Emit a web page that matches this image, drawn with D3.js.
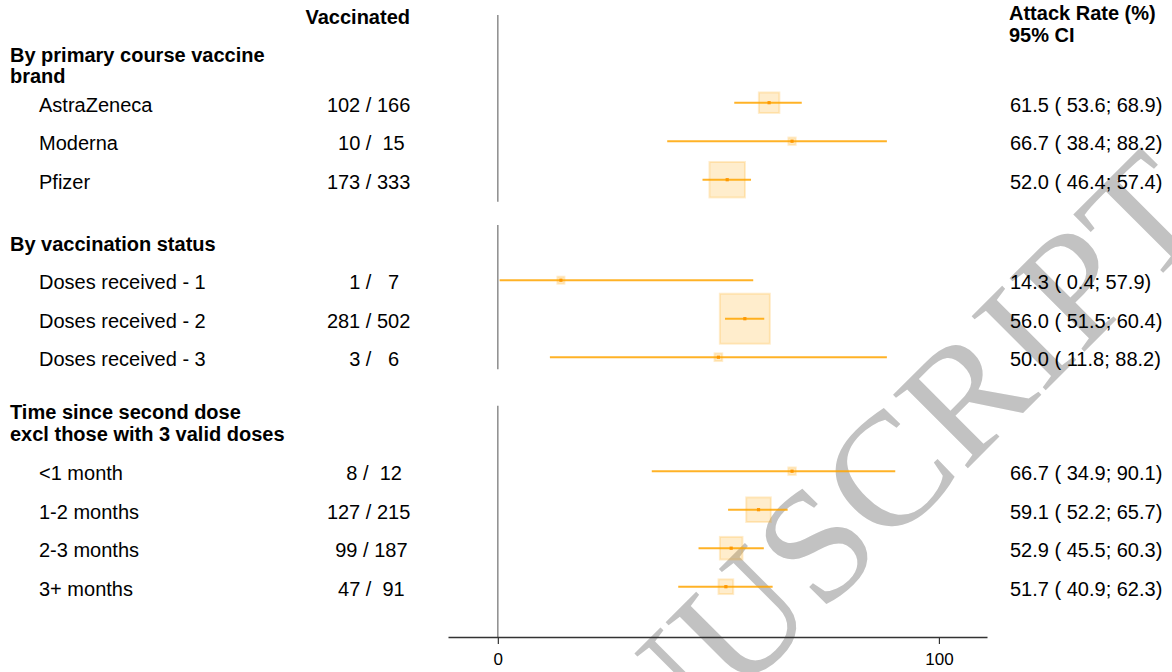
<!DOCTYPE html>
<html><head><meta charset="utf-8">
<script src="https://cdn.jsdelivr.net/npm/d3@7"></script>
<style>
body{margin:0;background:#fff;}
svg{display:block;}
text{font-family:"Liberation Sans",Arial,Helvetica,sans-serif;fill:#000;}
</style>
</head><body>
<svg id="chart" width="1172" height="672"></svg>
<script>
// ---------------- data ----------------
const groupTitles = [
  ["By primary course vaccine", "brand"],
  ["By vaccination status"],
  ["Time since second dose", "excl those with 3 valid doses"]
];
const labels = ["AstraZeneca", "Moderna", "Pfizer",
  "Doses received - 1", "Doses received - 2", "Doses received - 3",
  "<1 month", "1-2 months", "2-3 months", "3+ months"];
const groupIndex = [0, 0, 0, 1, 1, 1, 2, 2, 2, 2];
const events = [102, 10, 173, 1, 281, 3, 8, 127, 99, 47];
const totals = [166, 15, 333, 7, 502, 6, 12, 215, 187, 91];
const attackRate = [61.5, 66.7, 52.0, 14.3, 56.0, 50.0, 66.7, 59.1, 52.9, 51.7];
const ciLower = [53.6, 38.4, 46.4, 0.4, 51.5, 11.8, 34.9, 52.2, 45.5, 40.9];
const ciUpper = [68.9, 88.2, 57.4, 57.9, 60.4, 88.2, 90.1, 65.7, 60.3, 62.3];
const weights = [420, 53, 1260, 49, 2500, 59, 55, 605, 511, 216];
const xTicks = [0, 100];
const colHeaderLeft = "Vaccinated";
const colHeaderRight = ["Attack Rate (%)", "95% CI"];
const watermarkText = "NUSCRIPT";

// ---------------- layout ----------------
const svg = d3.select("#chart");
const rowSlots = [0, 1, 2, 4.61, 5.61, 6.61, 9.57, 10.57, 11.57, 12.57];
const titleSlots = [[-1.30, -0.74], [3.61], [7.98, 8.55]];
const refSegSlots = [[-2.51, 2.34], [2.94, 6.69], [7.64, null]];
const ySlot = d3.scaleLinear().domain([0, 12.57]).range([111.7, 595.7]);
const axisY = 637;
const x = d3.scaleLinear().domain([-11.3, 110.9]).range([448, 987]);
const boxSide = d3.scaleSqrt().domain([0, 2500]).range([0, 50]);
const FS = 20;
const orange = "#FFA500";

// watermark (beneath chart)
svg.append("g")
  .attr("transform", "translate(653,783) rotate(-45) scale(1.03,1)")
  .append("text")
  .attr("x", 0).attr("y", 0)
  .style("font-family", '"Liberation Serif","Times New Roman",serif')
  .style("font-size", "160px")
  .style("fill", "#c2c2c2")
  .text(watermarkText);

// headers
svg.append("text").attr("x", 410).attr("y", 24).attr("text-anchor", "end")
  .style("font-size", FS + "px").style("font-weight", "bold").text(colHeaderLeft);
colHeaderRight.forEach((t, i) => {
  svg.append("text").attr("x", 1009).attr("y", 19.5 + i * 22)
    .style("font-size", FS + "px").style("font-weight", "bold").text(t);
});

// group titles
groupTitles.forEach((lines, g) => {
  lines.forEach((t, j) => {
    svg.append("text").attr("x", 10).attr("y", ySlot(titleSlots[g][j]))
      .style("font-size", FS + "px").style("font-weight", "bold").text(t);
  });
});

const pad3 = v => String(v).padStart(3, " ");
const rows = labels.map((l, i) => ({
  label: l, g: groupIndex[i], n: events[i], N: totals[i],
  est: attackRate[i], lo: ciLower[i], hi: ciUpper[i], w: weights[i],
  base: ySlot(rowSlots[i])
}));

// row labels
svg.append("g").selectAll("text").data(rows).join("text")
  .attr("x", 39).attr("y", d => d.base)
  .style("font-size", FS + "px").text(d => d.label);

// counts
svg.append("g").selectAll("text").data(rows).join("text")
  .attr("x", 368.6).attr("y", d => d.base).attr("text-anchor", "middle")
  .attr("xml:space", "preserve").style("white-space", "pre")
  .style("font-size", FS + "px")
  .text(d => pad3(d.n) + " / " + pad3(d.N));

// right CI column
const f1 = d3.format(".1f");
svg.append("g").selectAll("text").data(rows).join("text")
  .attr("x", 1010).attr("y", d => d.base)
  .attr("xml:space", "preserve").style("white-space", "pre")
  .style("font-size", FS + "px")
  .text(d => f1(d.est) + " ( " + f1(d.lo) + "; " + f1(d.hi) + ")");

// reference line segments at 0
svg.append("g").selectAll("line").data(refSegSlots).join("line")
  .attr("x1", x(0)).attr("x2", x(0))
  .attr("y1", d => ySlot(d[0]))
  .attr("y2", d => d[1] === null ? axisY : ySlot(d[1]))
  .attr("stroke", "#7a7a7a").attr("stroke-width", 1.3);

// x axis
const axis = d3.axisBottom(x).tickValues(xTicks).tickSizeInner(7).tickSizeOuter(0).tickPadding(9);
const ax = svg.append("g").attr("transform", `translate(0,${axisY})`).call(axis);
ax.select(".domain").attr("stroke", "#333").attr("stroke-width", 1.4);
ax.selectAll(".tick line").attr("stroke", "#333").attr("stroke-width", 1.2);
ax.selectAll(".tick text").style("font-size", "17px").style("font-family", '"Liberation Sans",Arial,sans-serif').attr("fill", "#000");

// forest marks
const marks = svg.append("g");
rows.forEach(d => {
  const cy = d.base - 9;
  const s = boxSide(d.w);
  marks.append("rect")
    .attr("x", x(d.est) - s / 2).attr("y", cy - s / 2)
    .attr("width", s).attr("height", s)
    .attr("fill", orange).attr("fill-opacity", 0.2)
    .attr("stroke", orange).attr("stroke-opacity", 0.2).attr("stroke-width", 2);
  marks.append("line")
    .attr("x1", x(d.lo)).attr("x2", x(d.hi)).attr("y1", cy).attr("y2", cy)
    .attr("stroke", orange).attr("stroke-opacity", 0.85).attr("stroke-width", 2);
  marks.append("rect")
    .attr("x", x(d.est) - 1.6).attr("y", cy - 1.6).attr("width", 3.2).attr("height", 3.2)
    .attr("fill", "#FF9800");
});
</script>
</body></html>
